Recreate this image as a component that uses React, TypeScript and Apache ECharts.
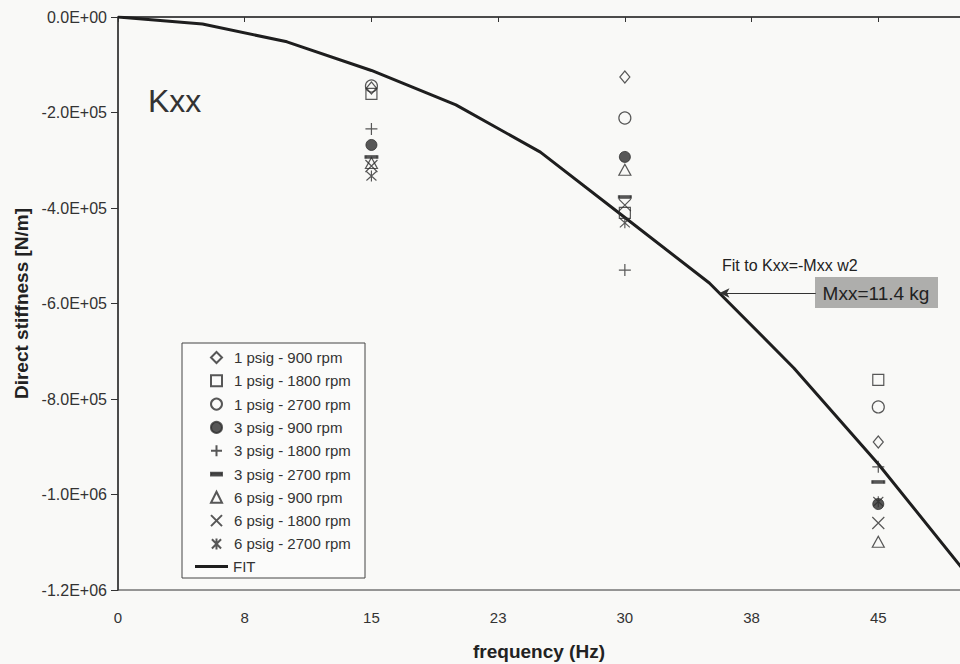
import React, { useEffect, useRef } from "react";
import * as echarts from "echarts";

const xTickLabels = ["0", "8", "15", "23", "30", "38", "45"];
const seriesNames = [
  "1 psig - 900 rpm",
  "1 psig - 1800 rpm",
  "1 psig - 2700 rpm",
  "3 psig - 900 rpm",
  "3 psig - 1800 rpm",
  "3 psig - 2700 rpm",
  "6 psig - 900 rpm",
  "6 psig - 1800 rpm",
  "6 psig - 2700 rpm",
];
const testFreqs = [15, 30, 45];
const p1_900 = [-148700, -125600, -890000];
const p1_1800 = [-161000, -410000, -760000];
const p1_2700 = [-144500, -211500, -816600];
const p3_900 = [-268000, -293000, -1020000];
const p3_1800 = [-234500, -530000, -942000];
const p3_2700 = [-293000, -377000, -973700];
const p6_900 = [-305700, -320000, -1099000];
const p6_1800 = [-312000, -394000, -1059600];
const p6_2700 = [-333000, -431000, -1015000];
const fitFreqs = [0, 5, 10, 15, 20, 25, 30, 35, 40, 45, 50];
const fitK = [0, -14700, -52000, -112000, -184000, -283000, -420000, -557000, -735000, -936000, -1156000];

const INK = "#2e2e2e";
const FONT = "Liberation Sans, Arial, sans-serif";
const DASH_ICON = "path://M0,0L12,0L12,3L0,3Z";

function sciLabel(v: number): string {
  if (v === 0) return "0.0E+00";
  const e = Math.floor(Math.log10(Math.abs(v)) + 1e-9);
  const m = v / Math.pow(10, e);
  return m.toFixed(1) + "E+" + String(e).padStart(2, "0");
}

export default function App() {
  const ref = useRef<HTMLDivElement>(null);
  useEffect(() => {
    if (!ref.current) return;
    const chart = echarts.init(ref.current, null, { renderer: "svg" });
    const hollow = { color: "rgba(0,0,0,0)", borderColor: INK, borderWidth: 1.2 };
    const filled = { color: INK, borderColor: INK, borderWidth: 1 };
    const defs: any[] = [
      [p1_900, "diamond", [10, 12], hollow],
      [p1_1800, "rect", 11, hollow],
      [p1_2700, "circle", 12, hollow],
      [p3_900, "circle", 11, filled],
      [p3_1800, "path://M5,0L5,10M0,5L10,5", 12, hollow],
      [p3_2700, "rect", [12, 3], filled],
      [p6_900, "triangle", [12, 11], hollow],
      [p6_1800, "path://M0,0L10,10M10,0L0,10", 12, hollow],
      [p6_2700, "path://M0,0L10,10M10,0L0,10M5,-1L5,11", [10, 11], hollow],
    ];
    const scatter = defs.map((d, i) => ({
      name: seriesNames[i],
      type: "scatter",
      symbol: d[1],
      symbolSize: d[2],
      itemStyle: d[3],
      data: testFreqs.map((f, j) => [f, d[0][j]]),
      z: 3,
    }));
    const legendText = {
      color: "#333",
      fontSize: 15,
      lineHeight: 15,
      fontFamily: FONT,
      padding: [0, 0, 0, 7],
    };
    const legendItems = seriesNames.map((n) =>
      n === "3 psig - 2700 rpm" ? { name: n, icon: DASH_ICON } : n
    );
    const option: any = {
      animation: false,
      backgroundColor: "#f9f9f7",
      textStyle: { fontFamily: FONT },
      grid: {
        left: 118,
        top: 17,
        width: 887,
        height: 573,
        outerBoundsMode: "none",
        containLabel: false,
        show: true,
        borderColor: "#333",
        borderWidth: 1,
        backgroundColor: "transparent",
      },
      xAxis: {
        type: "value",
        min: 0,
        max: 52.5,
        interval: 7.5,
        splitLine: { show: false },
        axisLine: { lineStyle: { color: "#333", width: 1.5 } },
        axisTick: { show: true, length: 5, lineStyle: { color: "#333" } },
        axisLabel: {
          color: "#333",
          fontSize: 15,
          margin: 20,
          formatter: (v: number) => {
            const idx = Math.round(v / 7.5);
            return xTickLabels[idx] ?? "";
          },
        },
      },
      yAxis: {
        type: "value",
        min: -1200000,
        max: 0,
        interval: 200000,
        name: "Direct stiffness [N/m]",
        nameLocation: "middle",
        nameGap: 85,
        nameTextStyle: { color: "#222", fontSize: 19, fontWeight: "bold" },
        splitLine: { show: false },
        axisLine: { lineStyle: { color: "#333", width: 1.5 } },
        axisTick: { show: true, length: 7, lineStyle: { color: "#333" } },
        axisLabel: { color: "#333", fontSize: 16, margin: 11, formatter: sciLabel },
      },
      legend: [
        {
          orient: "vertical",
          left: 182,
          top: 343,
          padding: [7, 10, 0, 28],
          itemGap: 8.3,
          itemWidth: 11,
          itemHeight: 11,
          textStyle: legendText,
          data: legendItems,
          z: 5,
        },
        {
          orient: "vertical",
          left: 195,
          top: 559,
          padding: 0,
          itemWidth: 33,
          itemHeight: 3,
          textStyle: { ...legendText, padding: [0, 0, 0, 0] },
          itemGap: 0,
          data: [{ name: "FIT", icon: "rect" }],
          z: 5,
        },
      ],
      series: [
        ...scatter,
        {
          name: "FIT",
          type: "line",
          symbol: "none",
          lineStyle: { color: "#1e1e1e", width: 3 },
          itemStyle: { color: "#1e1e1e" },
          data: fitFreqs.map((f, i) => [f, fitK[i]]),
          z: 2,
          markLine: {
            silent: true,
            symbol: ["none", "none"],
            label: { show: false },
            lineStyle: { color: "#333", width: 1, type: "solid" },
            data: [
              [
                { coord: [35.6, -578000], symbol: "arrow", symbolSize: [7, 10] },
                { coord: [41.3, -578000], symbol: "none" },
              ],
            ],
          },
        },
      ],
      graphic: [
        {
          type: "rect",
          z: 1,
          shape: { x: 182, y: 343, width: 183, height: 235 },
          style: { fill: "#fbfbfa", stroke: "#444", lineWidth: 1 },
        },
        {
          type: "text",
          x: 148,
          y: 101,
          style: {
            text: "Kxx",
            font: "32px " + FONT,
            fill: "#333",
            textVerticalAlign: "middle",
          },
        },
        {
          type: "text",
          x: 722,
          y: 265,
          style: {
            text: "Fit to Kxx=-Mxx w2",
            font: "16px " + FONT,
            fill: "#222",
            textVerticalAlign: "middle",
          },
        },
        {
          type: "rect",
          shape: { x: 815, y: 277, width: 123, height: 31 },
          style: { fill: "#aeaeac" },
        },
        {
          type: "text",
          x: 876,
          y: 293,
          style: {
            text: "Mxx=11.4 kg",
            font: "19px " + FONT,
            fill: "#222",
            textAlign: "center",
            textVerticalAlign: "middle",
          },
        },
        {
          type: "text",
          x: 539,
          y: 651,
          style: {
            text: "frequency (Hz)",
            font: "bold 19px " + FONT,
            fill: "#222",
            textAlign: "center",
            textVerticalAlign: "middle",
          },
        },
      ],
    };
    chart.setOption(option);
    return () => chart.dispose();
  }, []);
  return (
    <div
      ref={ref}
      style={{ position: "absolute", left: 0, top: 0, width: 960, height: 664 }}
    />
  );
}
